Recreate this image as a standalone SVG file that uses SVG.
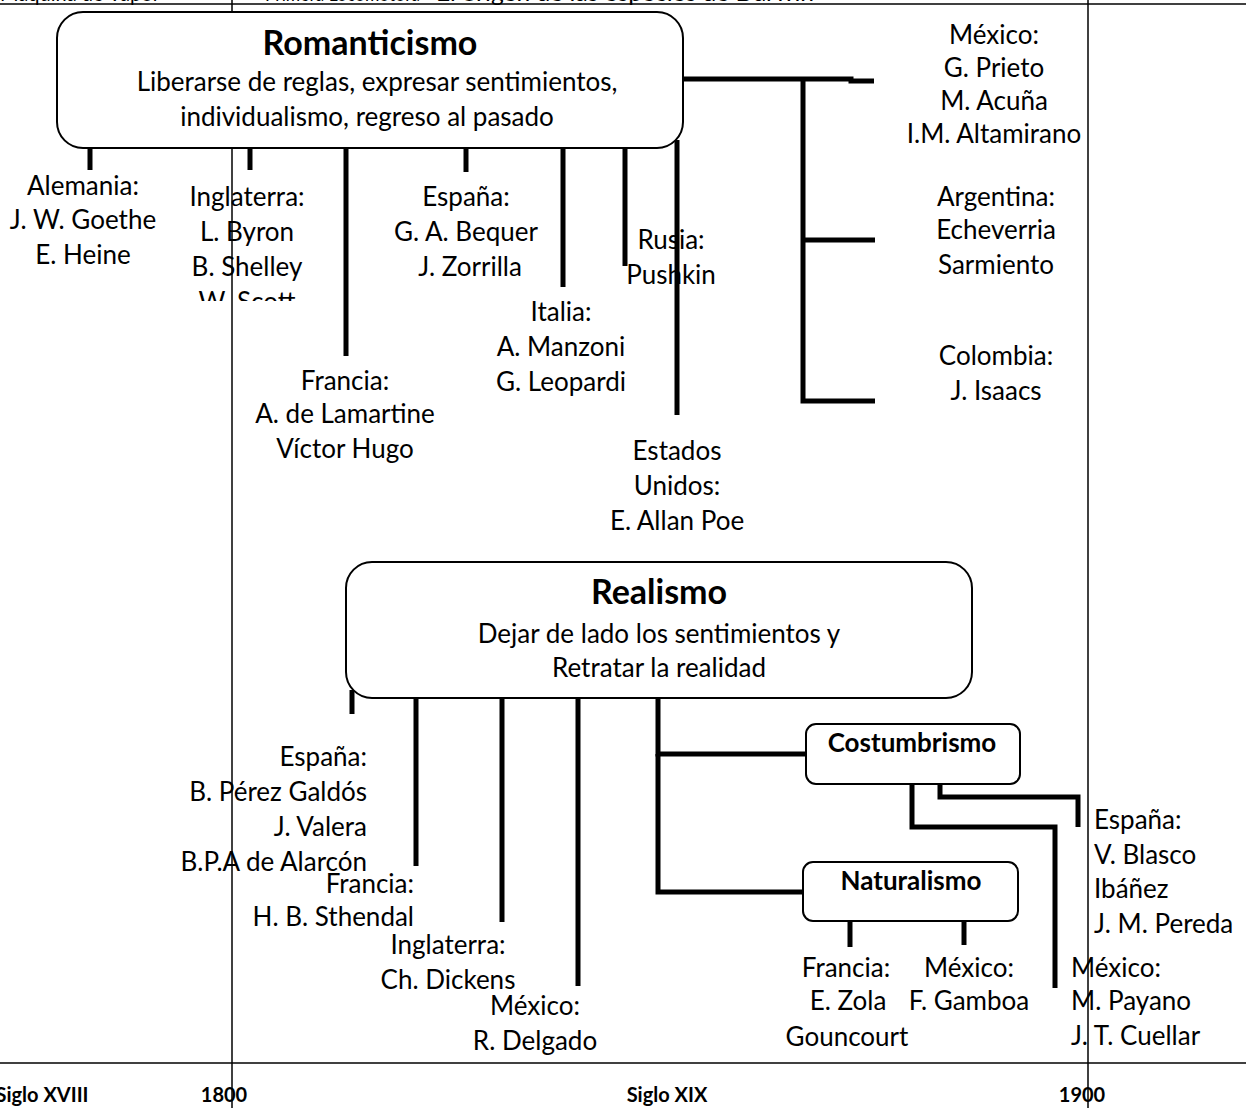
<svg xmlns="http://www.w3.org/2000/svg" width="1254" height="1108" viewBox="0 0 1254 1108">
  <style>
    text { font-family: Lato, "Open Sans", "Liberation Sans", sans-serif; fill: #000; }
    .t { font-size: 26px; text-anchor: middle; }
    .tl { font-size: 26px; text-anchor: start; }
    .tr { font-size: 26px; text-anchor: end; }
    .title { font-size: 34px; font-weight: bold; text-anchor: middle; }
    .sub { font-size: 26px; font-weight: bold; text-anchor: middle; }
    .axis { font-size: 20px; font-weight: bold; text-anchor: middle; }
    .top { font-size: 24px; }
    .box { fill: #fff; stroke: #000; stroke-width: 2; }
    .thick { fill: none; stroke: #000; stroke-width: 5; }
    .thin { fill: none; stroke: #000; stroke-width: 1.5; }
  </style>
  <defs>
    <clipPath id="clipIng"><rect x="160" y="150" width="180" height="151"/></clipPath>
  </defs>
  <rect width="1254" height="1108" fill="#fff"/>

  <!-- timeline frame -->
  <g id="timeline">
    <text class="top" x="0" y="1" textLength="160" lengthAdjust="spacingAndGlyphs">Máquina de Vapor</text>
    <text class="top" x="265" y="1" textLength="155" lengthAdjust="spacingAndGlyphs">Primera Locomotora</text>
    <text class="top" x="436" y="1" textLength="378" lengthAdjust="spacingAndGlyphs">El origen de las especies de Darwin</text>
    <line class="thin" x1="0" y1="4" x2="1246" y2="4" stroke="#333"/>
    <line class="thin" x1="0" y1="1063" x2="1246" y2="1063" stroke="#333"/>
    <line class="thin" x1="232" y1="0" x2="232" y2="1108"/>
    <line class="thin" x1="1088" y1="0" x2="1088" y2="1108"/>
    <text class="axis" x="42" y="1102">Siglo XVIII</text>
    <text class="axis" x="224" y="1102">1800</text>
    <text class="axis" x="667" y="1102">Siglo XIX</text>
    <text class="axis" x="1082" y="1102">1900</text>
  </g>

  <!-- connectors -->
  <g id="connectors">
    <line class="thick" x1="90" y1="148" x2="90" y2="170"/>
    <line class="thick" x1="250" y1="148" x2="250" y2="170"/>
    <line class="thick" x1="346" y1="148" x2="346" y2="356"/>
    <line class="thick" x1="466" y1="148" x2="466" y2="172"/>
    <line class="thick" x1="563" y1="148" x2="563" y2="287"/>
    <line class="thick" x1="625" y1="145" x2="625" y2="266"/>
    <line class="thick" x1="677" y1="140" x2="677" y2="415"/>
    <polyline class="thick" points="683,79 851,79 851,81 874,81"/>
    <polyline class="thick" points="803,79 803,401 875,401"/>
    <line class="thick" x1="803" y1="240" x2="875" y2="240"/>

    <line class="thick" x1="352" y1="690" x2="352" y2="714"/>
    <line class="thick" x1="416" y1="698" x2="416" y2="866"/>
    <line class="thick" x1="502" y1="698" x2="502" y2="922"/>
    <line class="thick" x1="578" y1="698" x2="578" y2="986"/>
    <polyline class="thick" points="806,754 658,754 658,698"/>
    <polyline class="thick" points="658,754 658,892 803,892"/>
    <polyline class="thick" points="912,784 912,827 1055,827 1055,988"/>
    <polyline class="thick" points="940,784 940,797 1078,797 1078,827"/>
    <line class="thick" x1="850" y1="921" x2="850" y2="947"/>
    <line class="thick" x1="964" y1="921" x2="964" y2="945"/>
  </g>

  <!-- Romanticismo -->
  <g id="romanticismo">
    <rect class="box" x="57" y="12" width="626" height="136" rx="26"/>
    <text class="title" x="370" y="55">Romanticismo</text>
    <text class="t" x="377" y="91">Liberarse de reglas, expresar sentimientos,</text>
    <text class="t" x="367" y="126">individualismo, regreso al pasado</text>
  </g>

  <g id="alemania">
    <text class="t" x="83" y="195">Alemania:</text>
    <text class="t" x="83" y="229">J. W. Goethe</text>
    <text class="t" x="83" y="264">E. Heine</text>
  </g>
  <g id="inglaterra" clip-path="url(#clipIng)">
    <text class="t" x="247" y="206">Inglaterra:</text>
    <text class="t" x="247" y="241">L. Byron</text>
    <text class="t" x="247" y="276">B. Shelley</text>
    <text class="t" x="247" y="311">W. Scott</text>
  </g>
  <g id="francia-rom">
    <text class="t" x="345" y="390">Francia:</text>
    <text class="t" x="345" y="423">A. de Lamartine</text>
    <text class="t" x="345" y="458">Víctor Hugo</text>
  </g>
  <g id="espana-rom">
    <text class="t" x="466" y="206">España:</text>
    <text class="t" x="466" y="241">G. A. Bequer</text>
    <text class="t" x="470" y="276">J. Zorrilla</text>
  </g>
  <g id="italia">
    <text class="t" x="561" y="321">Italia:</text>
    <text class="t" x="561" y="356">A. Manzoni</text>
    <text class="t" x="561" y="391">G. Leopardi</text>
  </g>
  <g id="rusia">
    <text class="t" x="671" y="249">Rusia:</text>
    <text class="t" x="671" y="284">Pushkin</text>
  </g>
  <g id="eeuu">
    <text class="t" x="677" y="460">Estados</text>
    <text class="t" x="677" y="495">Unidos:</text>
    <text class="t" x="677" y="530">E. Allan Poe</text>
  </g>
  <g id="mexico-rom">
    <text class="t" x="994" y="44">México:</text>
    <text class="t" x="994" y="77">G. Prieto</text>
    <text class="t" x="994" y="110">M. Acuña</text>
    <text class="t" x="994" y="143">I.M. Altamirano</text>
  </g>
  <g id="argentina">
    <text class="t" x="996" y="206">Argentina:</text>
    <text class="t" x="996" y="239">Echeverria</text>
    <text class="t" x="996" y="274">Sarmiento</text>
  </g>
  <g id="colombia">
    <text class="t" x="996" y="365">Colombia:</text>
    <text class="t" x="996" y="400">J. Isaacs</text>
  </g>

  <!-- Realismo -->
  <g id="realismo">
    <rect class="box" x="346" y="562" width="626" height="136" rx="26"/>
    <text class="title" x="659" y="604">Realismo</text>
    <text class="t" x="659" y="643">Dejar de lado los sentimientos y</text>
    <text class="t" x="659" y="677">Retratar la realidad</text>
  </g>

  <g id="espana-real">
    <text class="tr" x="367" y="766">España:</text>
    <text class="tr" x="367" y="801">B. Pérez Galdós</text>
    <text class="tr" x="367" y="836">J. Valera</text>
    <text class="tr" x="367" y="871">B.P.A de Alarcón</text>
  </g>
  <g id="francia-real">
    <text class="tr" x="414" y="893">Francia:</text>
    <text class="tr" x="414" y="926">H. B. Sthendal</text>
  </g>
  <g id="inglaterra-real">
    <text class="t" x="448" y="954">Inglaterra:</text>
    <text class="t" x="448" y="989">Ch. Dickens</text>
  </g>
  <g id="mexico-real">
    <text class="t" x="535" y="1015">México:</text>
    <text class="t" x="535" y="1050">R. Delgado</text>
  </g>

  <g id="costumbrismo">
    <rect class="box" x="806" y="724" width="214" height="60" rx="10"/>
    <text class="sub" x="912" y="752">Costumbrismo</text>
  </g>
  <g id="naturalismo">
    <rect class="box" x="803" y="862" width="215" height="59" rx="10"/>
    <text class="sub" x="911" y="890">Naturalismo</text>
  </g>

  <g id="francia-nat">
    <text class="t" x="846" y="977">Francia:</text>
    <text class="t" x="848" y="1010">E. Zola</text>
    <text class="t" x="847" y="1046">Gouncourt</text>
  </g>
  <g id="mexico-nat">
    <text class="t" x="969" y="977">México:</text>
    <text class="t" x="969" y="1010">F. Gamboa</text>
  </g>
  <g id="espana-cost">
    <text class="tl" x="1094" y="829">España:</text>
    <text class="tl" x="1094" y="864">V. Blasco</text>
    <text class="tl" x="1094" y="898">Ibáñez</text>
    <text class="tl" x="1094" y="933">J. M. Pereda</text>
  </g>
  <g id="mexico-cost">
    <text class="tl" x="1071" y="977">México:</text>
    <text class="tl" x="1071" y="1010">M. Payano</text>
    <text class="tl" x="1071" y="1045">J. T. Cuellar</text>
  </g>
</svg>
